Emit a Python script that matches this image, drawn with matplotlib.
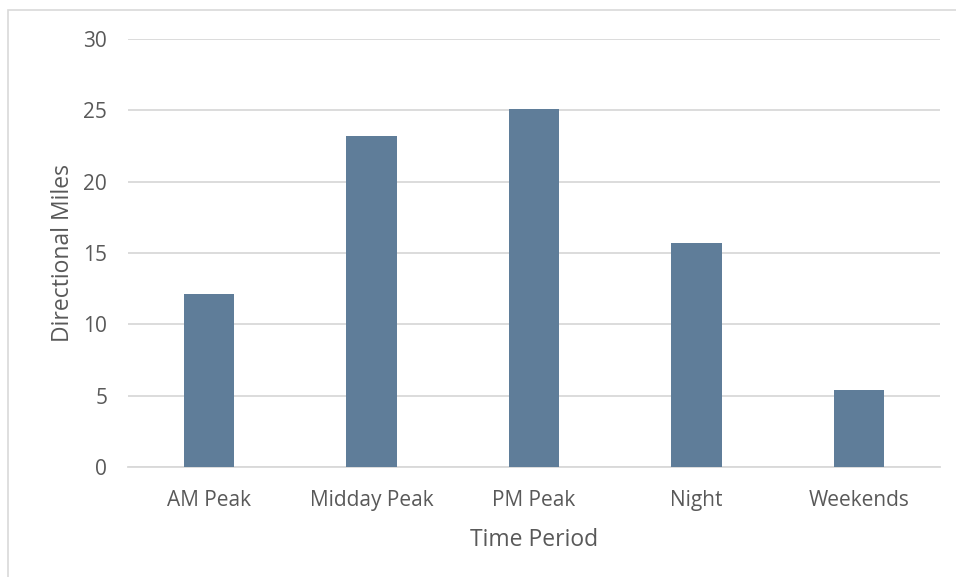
import matplotlib
matplotlib.use("Agg")
import matplotlib.pyplot as plt
from matplotlib.patches import Rectangle

categories = ["AM Peak", "Midday Peak", "PM Peak", "Night", "Weekends"]
miles = [12.1, 23.2, 25.1, 15.7, 5.4]
y_ticks = [0, 5, 10, 15, 20, 25, 30]

bar_color = "#5f7d99"
text_color = "#595959"
grid_color = "#d9d9d9"

plt.rcParams["font.family"] = ["Open Sans", "DejaVu Sans"]

fig = plt.figure(figsize=(9.56, 5.77), dpi=100)
ax = fig.add_axes([0.1339, 0.1906, 0.8494, 0.7418])

x = range(len(categories))
ax.bar(x, miles, width=0.31, color=bar_color, zorder=3)

ax.set_xlim(-0.5, len(categories) - 0.5)
ax.set_ylim(0, 30)
ax.set_yticks(y_ticks)
ax.set_xticks(list(x))
ax.set_xticklabels(categories)
ax.yaxis.grid(True, color=grid_color, linewidth=1.3, zorder=0)
ax.tick_params(axis="both", length=0, labelsize=15, labelcolor=text_color)
ax.tick_params(axis="x", pad=16.5)
ax.tick_params(axis="y", pad=15)
for side in ["top", "right", "left"]:
    ax.spines[side].set_visible(False)
ax.spines["bottom"].set_color(grid_color)
ax.spines["bottom"].set_linewidth(1.3)

ax.set_xlabel("Time Period", fontsize=16.5, color=text_color, labelpad=12)
ax.set_ylabel("Directional Miles", fontsize=16.5, color=text_color, labelpad=6)

# light frame around the chart area
fig.patches.append(Rectangle((8 / 956, -0.01), 1.0, 1 - 10 / 577 + 0.01,
                             transform=fig.transFigure, fill=False,
                             edgecolor="#d9d9d9", linewidth=1.2))

fig.savefig("out.png", dpi=100)
